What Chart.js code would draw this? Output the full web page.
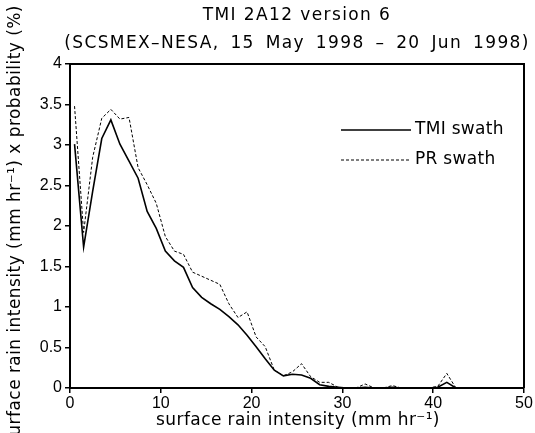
<!DOCTYPE html>
<html>
<head>
<meta charset="utf-8">
<script src="https://cdn.jsdelivr.net/npm/chart.js@4.4.1/dist/chart.umd.min.js"></script>
<style>
html,body{margin:0;padding:0;background:#fff;}
#wrap{width:535px;height:433px;position:relative;}
</style>
</head>
<body>
<div id="wrap"><canvas id="c" width="535" height="433"></canvas></div>
<script>
const titleLines = ["TMI 2A12 version 6", "(SCSMEX\u2013NESA, 15 May 1998 \u2013 20 Jun 1998)"];
const xTitle = "surface rain intensity (mm hr\u207B\u00B9)";
const yTitle = "surface rain intensity (mm hr\u207B\u00B9) x probability (%)";
const seriesNames = ["TMI swath", "PR swath"];
const binCenters = [0.5,1.5,2.5,3.5,4.5,5.5,6.5,7.5,8.5,9.5,10.5,11.5,12.5,13.5,14.5,15.5,16.5,17.5,18.5,19.5,20.5,21.5,22.5,23.5,24.5,25.5,26.5,27.5,28.5,29.5,30.5,31.5,32.5,33.5,34.5,35.5,36.5,37.5,38.5,39.5,40.5,41.5,42.5,43.5,44.5,45.5,46.5,47.5,48.5,49.5];
const tmiValues = [3.01,1.74,2.43,3.08,3.31,3.01,2.80,2.59,2.18,1.97,1.69,1.57,1.49,1.24,1.12,1.04,0.97,0.88,0.78,0.65,0.51,0.36,0.22,0.15,0.17,0.16,0.12,0.04,0.02,0.01,0,0,0.01,0,0,0.01,0,0,0,0,0.01,0.07,0,0,0,0,0,0,0,0];
const prValues = [3.48,1.92,2.85,3.33,3.44,3.32,3.34,2.72,2.51,2.28,1.87,1.69,1.65,1.43,1.38,1.33,1.28,1.04,0.87,0.94,0.63,0.51,0.22,0.15,0.20,0.30,0.14,0.07,0.07,0.01,0,0,0.05,0,0,0.03,0,0,0,0,0.02,0.18,0,0,0,0,0,0,0,0];
const xTicks = [0,10,20,30,40,50];
const yTicks = [0,0.5,1,1.5,2,2.5,3,3.5,4];

const FONT = "'DejaVu Sans', sans-serif";
const TFONT = "'Liberation Sans', Arial, sans-serif";

const decor = {
  id: 'decor',
  afterDraw(chart) {
    const ctx = chart.ctx, a = chart.chartArea;
    ctx.save();
    ctx.strokeStyle = '#000'; ctx.lineWidth = 2;
    ctx.beginPath();
    ctx.moveTo(a.left, a.top); ctx.lineTo(a.right, a.top); ctx.lineTo(a.right, a.bottom);
    ctx.stroke();
    ctx.fillStyle = '#000';
    ctx.font = "17px " + FONT;
    ctx.textAlign = 'center'; ctx.textBaseline = 'middle';
    ctx.letterSpacing = '1.4px';
    ctx.fillText(titleLines[0], 297, 16);
    ctx.wordSpacing = '4px';
    ctx.fillText(titleLines[1], 297, 44);
    ctx.wordSpacing = '0px';
    ctx.letterSpacing = '0.4px';
    ctx.fillText(xTitle, 298, 421);
    ctx.letterSpacing = '0.45px';
    ctx.save();
    ctx.translate(16, 225);
    ctx.rotate(-Math.PI/2);
    ctx.fillText(yTitle, 0, 0);
    ctx.restore();
    ctx.letterSpacing = '0.3px';
    const ds = chart.data.datasets;
    const ly = [130, 160];
    ds.forEach((d, i) => {
      ctx.save();
      ctx.strokeStyle = '#000';
      ctx.lineWidth = d.borderWidth;
      ctx.setLineDash(d.borderDash || []);
      ctx.beginPath(); ctx.moveTo(341, ly[i]); ctx.lineTo(411, ly[i]); ctx.stroke();
      ctx.restore();
      ctx.textAlign = 'left';
      ctx.fillText(d.label, 415, ly[i]);
    });
    ctx.restore();
  }
};

new Chart(document.getElementById('c'), {
  type: 'line',
  data: {
    datasets: [
      { label: seriesNames[0], data: binCenters.map((x,i)=>({x, y: tmiValues[i]})), borderColor:'#000', borderWidth:1.6, pointRadius:0, tension:0, fill:false },
      { label: seriesNames[1], data: binCenters.map((x,i)=>({x, y: prValues[i]})), borderColor:'#000', borderWidth:1, borderDash:[3,2], pointRadius:0, tension:0, fill:false }
    ]
  },
  options: {
    responsive: false,
    animation: false,
    events: [],
    layout: { padding: { top: 64, right: 11, left: 0, bottom: 0 } },
    plugins: { legend: { display: false }, title: { display: false }, tooltip: { enabled: false } },
    scales: {
      x: {
        type: 'linear', min: 0, max: 50,
        afterBuildTicks: s => { s.ticks = xTicks.map(v => ({value: v})); },
        afterFit: s => { s.height = 45; },
        border: { display: true, color: '#000', width: 2 },
        grid: { drawOnChartArea: false, drawTicks: true, tickLength: 5, color: '#000', lineWidth: 1.5 },
        ticks: { color: '#000', font: { family: TFONT, size: 16 }, padding: 1, maxRotation: 0, callback: v => String(v) }
      },
      y: {
        type: 'linear', min: 0, max: 4,
        afterBuildTicks: s => { s.ticks = yTicks.map(v => ({value: v})); },
        afterFit: s => { s.width = 70; },
        border: { display: true, color: '#000', width: 2 },
        grid: { drawOnChartArea: false, drawTicks: true, tickLength: 5, color: '#000', lineWidth: 1.5 },
        ticks: { color: '#000', font: { family: TFONT, size: 16 }, padding: 3, callback: v => String(v) }
      }
    }
  },
  plugins: [decor]
});
</script>
</body>
</html>
